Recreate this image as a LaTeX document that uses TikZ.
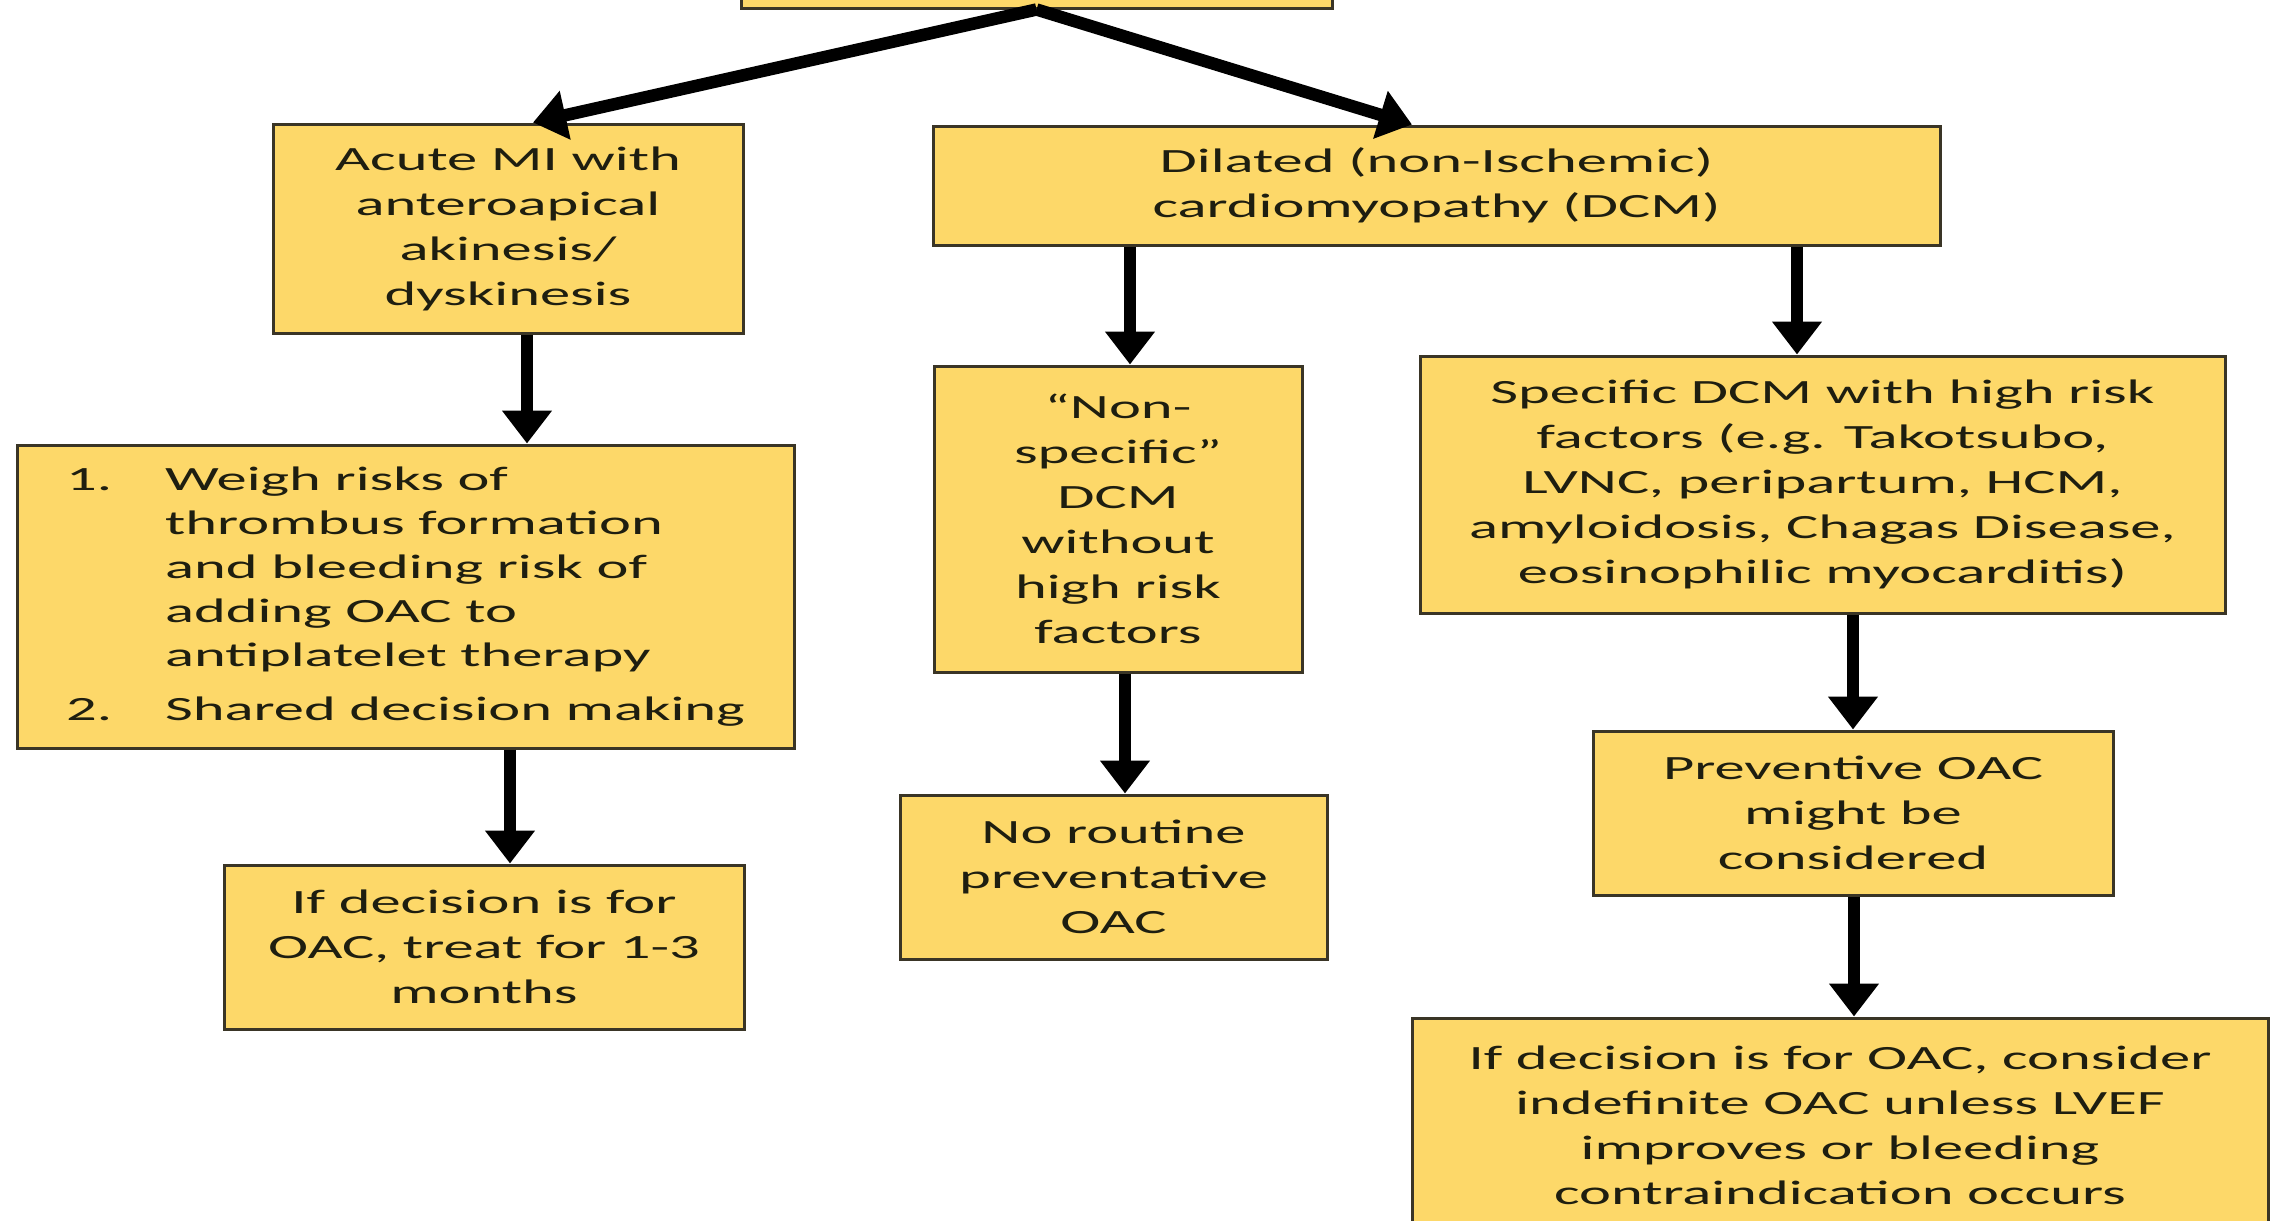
\documentclass[tikz,border=0pt]{standalone}
\usepackage{fontspec}
\setmainfont{Carlito}[FakeStretch=1.78]
\usetikzlibrary{arrows.meta}
\definecolor{boxfill}{HTML}{FDD869}
\definecolor{boxline}{HTML}{3A3526}
\definecolor{txt}{HTML}{1E1E10}
\begin{document}
\begin{tikzpicture}[x=1pt,y=-1pt,
  box/.style={draw=boxline, line width=3pt, fill=boxfill, inner sep=0pt,
    align=center, text=txt, font=\fontsize{34}{45}\selectfont},
  arr/.style={line width=12.5pt, -{Triangle[width=48pt,length=33pt]}}]
\useasboundingbox (0,0) rectangle (2287,1221);
\fill[white] (0,0) rectangle (2287,1221);
\clip (0,0) rectangle (2287,1221);

\node[box, minimum width=591pt, minimum height=108pt] (top) at (1036.5,-46) {};

\node[box, minimum width=470pt, minimum height=209pt] (acute) at (508,228.5)
  {Acute MI with\\anteroapical\\akinesis/\\dyskinesis};
\node[box, minimum width=1007pt, minimum height=119pt] (dcm) at (1436.5,185.5)
  {Dilated (non-Ischemic)\\cardiomyopathy (DCM)};
\node[box, minimum width=777pt, minimum height=303pt, font=\fontsize{34}{44}\selectfont] (weigh) at (405.5,596.5)
  {\begin{tabular}{@{}l@{}l@{}}
   \makebox[99pt][l]{1.} & Weigh risks of\\
   & thrombus formation\\
   & and bleeding risk of\\
   & adding OAC to\\
   & antiplatelet therapy\\[10pt]
   \makebox[99pt][l]{2.} & Shared decision making
   \end{tabular}};
\node[box, minimum width=520pt, minimum height=164pt] (ifone) at (484,947)
  {If decision is for\\OAC, treat for 1-3\\months};
\node[box, minimum width=368pt, minimum height=306pt] (nonspec) at (1118,519)
  {“Non-\\specific”\\DCM\\without\\high risk\\factors};
\node[box, minimum width=427pt, minimum height=164pt] (noroutine) at (1113.5,877)
  {No routine\\preventative\\OAC};
\node[box, minimum width=805pt, minimum height=257pt] (specific) at (1822.5,484.5)
  {Specific DCM with high risk\\factors (e.g. Takotsubo,\\LVNC, peripartum, HCM,\\amyloidosis, Chagas Disease,\\eosinophilic myocarditis)};
\node[box, minimum width=520pt, minimum height=164pt] (prevent) at (1853,813)
  {Preventive OAC\\might be\\considered};
\node[box, minimum width=856pt, minimum height=215pt] (final) at (1840,1125.5)
  {If decision is for OAC, consider\\indefinite OAC unless LVEF\\improves or bleeding\\contraindication occurs};

\draw[arr] (top.south) -- ([xshift=25pt]acute.north);
\draw[arr] (top.south) -- ([xshift=-24.5pt]dcm.north);
\draw[arr] ([xshift=19pt]acute.south) -- ([xshift=19pt]acute.south |- weigh.north);
\draw[arr] ([xshift=104.5pt]weigh.south) -- ([xshift=104.5pt]weigh.south |- ifone.north);
\draw[arr] ([xshift=-306.5pt]dcm.south) -- ([xshift=-306.5pt]dcm.south |- nonspec.north);
\draw[arr] ([xshift=7pt]nonspec.south) -- ([xshift=7pt]nonspec.south |- noroutine.north);
\draw[arr] ([xshift=360.5pt]dcm.south) -- ([xshift=360.5pt]dcm.south |- specific.north);
\draw[arr] ([xshift=30.5pt]specific.south) -- ([xshift=30.5pt]specific.south |- prevent.north);
\draw[arr] ([xshift=1pt]prevent.south) -- ([xshift=1pt]prevent.south |- final.north);
\end{tikzpicture}
\end{document}
